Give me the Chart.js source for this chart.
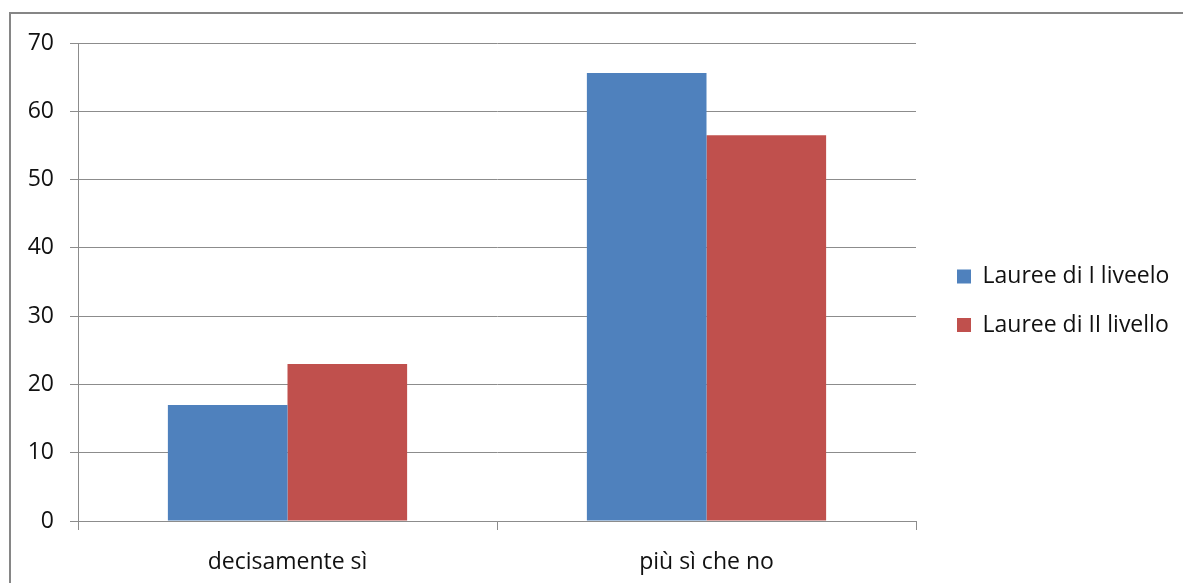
<!DOCTYPE html>
<html>
<head>
<meta charset="utf-8">
<script src="https://cdn.jsdelivr.net/npm/chart.js@4"></script>
<style>
  html, body { margin: 0; padding: 0; background: #ffffff; overflow: hidden; }
  #wrap { position: relative; width: 1183px; height: 583px; overflow: hidden; }
  #frame { position: absolute; left: 9px; top: 12px; width: 1300px; height: 700px;
           border: 2px solid #868686; box-sizing: border-box; }
  #c { position: absolute; left: 0; top: 0; }
</style>
</head>
<body>
<div id="wrap">
  <div id="frame"></div>
  <canvas id="c" width="1183" height="583"></canvas>
</div>
<script>
// ---- data ----
const categories = ['decisamente sì', 'più sì che no'];
const seriesNames = ['Lauree di I liveelo', 'Lauree di II livello'];
const laureeI = [17.0, 65.6];
const laureeII = [23.0, 56.5];
const yTicks = [0, 10, 20, 30, 40, 50, 60, 70];

// ---- styling / layout ----
const BLUE = '#4F81BD';
const RED = '#C0504D';
const GRID = '#8c8c8c';
const FONT = { family: '"Open Sans", sans-serif', size: 23 };
const LEGEND_WIDTH = 267;      // canvas right edge minus plot right edge
const LEGEND_PAD = 25.5;
const LEGEND_ITEMS_X = 957;
const LEGEND_MID_Y = 300.75;

const layoutTweaks = {
  id: 'layoutTweaks',
  beforeLayout(chart) {
    const lg = chart.legend;
    if (lg && !lg._fixedFit) {
      const orig = lg.fit;
      lg.fit = function () { orig.call(this); this.width = LEGEND_WIDTH; };
      lg._fixedFit = true;
    }
  },
  afterLayout(chart) {
    const lg = chart.legend;
    if (!lg) return;
    const h = lg.bottom - lg.top;
    lg.left = LEGEND_ITEMS_X - LEGEND_PAD;
    lg.top = LEGEND_MID_Y - h / 2;
    lg.bottom = lg.top + h;
  }
};

new Chart(document.getElementById('c'), {
  type: 'bar',
  data: {
    labels: categories,
    datasets: [
      { label: seriesNames[0], data: laureeI, backgroundColor: BLUE, borderWidth: 0 },
      { label: seriesNames[1], data: laureeII, backgroundColor: RED, borderWidth: 0 }
    ]
  },
  options: {
    responsive: false,
    animation: false,
    devicePixelRatio: 1,
    layout: { padding: { top: 43, left: 0, right: 0, bottom: 0 } },
    datasets: { bar: { categoryPercentage: 0.571, barPercentage: 1.0 } },
    plugins: {
      tooltip: { enabled: false },
      title: { display: false },
      legend: {
        position: 'right',
        align: 'center',
        labels: {
          boxWidth: 14,
          boxHeight: 14,
          padding: LEGEND_PAD,
          color: '#111',
          font: FONT
        }
      }
    },
    scales: {
      x: {
        offset: true,
        grid: { display: true, drawOnChartArea: false, drawTicks: true, tickLength: 9,
                color: GRID, lineWidth: 1, offset: true },
        border: { display: true, color: GRID, width: 1 },
        ticks: { color: '#111', font: FONT, padding: 19, maxRotation: 0 },
        afterFit(scale) { scale.height = 62; }
      },
      y: {
        min: 0,
        max: 70,
        afterBuildTicks(scale) { scale.ticks = yTicks.map(v => ({ value: v })); },
        grid: { display: true, drawOnChartArea: true, drawTicks: true, tickLength: 8,
                color: GRID, lineWidth: 1 },
        border: { display: true, color: GRID, width: 1 },
        ticks: { color: '#111', font: FONT, padding: 16 },
        afterFit(scale) { scale.width = 78; }
      }
    }
  },
  plugins: [layoutTweaks]
});
</script>
</body>
</html>
